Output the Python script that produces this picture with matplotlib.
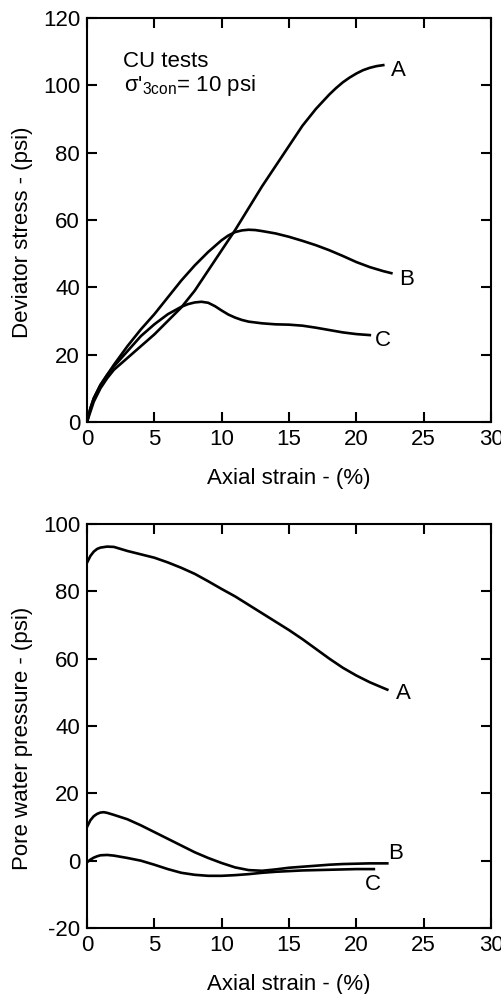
import matplotlib
matplotlib.use('Agg')
import matplotlib.pyplot as plt

plt.rcParams['font.family'] = ['Liberation Sans', 'DejaVu Sans']
plt.rcParams['mathtext.fontset'] = 'custom'
plt.rcParams['mathtext.rm'] = 'Liberation Sans'
plt.rcParams['axes.unicode_minus'] = False

# deviator stress vs axial strain (psi, %)
dev_a_x = [0, 0.25, 0.5, 1, 1.5, 2, 3, 4, 5, 6, 7, 8, 9, 10, 11, 12, 13, 14, 15, 16, 17, 18, 18.5, 19, 19.5, 20, 20.5, 21, 21.5, 22]
dev_a_y = [0, 3, 6, 10, 13, 15.5, 19, 22.5, 26, 30, 34, 39, 45, 51, 57, 63.5, 70, 76, 82, 88, 93, 97.3, 99.2, 100.9, 102.3, 103.5, 104.5, 105.2, 105.7, 106]
dev_b_x = [0, 0.25, 0.5, 1, 1.5, 2, 3, 4, 5, 6, 7, 8, 9, 10, 10.5, 11, 11.5, 12, 12.5, 13, 14, 15, 16, 17, 18, 19, 20, 21, 22, 22.6]
dev_b_y = [0, 4, 7, 11, 14, 17, 22.5, 27.5, 32, 37, 42, 46.5, 50.5, 54, 55.4, 56.4, 56.9, 57.1, 57, 56.7, 56, 55, 53.8, 52.5, 51, 49.3, 47.5, 46, 44.8, 44.2]
dev_c_x = [0, 0.25, 0.5, 1, 1.5, 2, 3, 4, 5, 6, 7, 7.5, 8, 8.5, 9, 9.5, 10, 10.5, 11, 11.5, 12, 13, 14, 15, 16, 17, 18, 19, 20, 21]
dev_c_y = [0, 4, 7, 11, 14, 16.5, 21, 25.5, 29, 32, 34.2, 35, 35.5, 35.7, 35.4, 34.4, 33.1, 31.9, 31, 30.3, 29.8, 29.3, 29, 28.9, 28.6, 28, 27.3, 26.6, 26.1, 25.8]

# pore water pressure vs axial strain
pwp_a_x = [0, 0.25, 0.5, 0.75, 1, 1.5, 2, 2.5, 3, 4, 5, 6, 7, 8, 9, 10, 11, 12, 13, 14, 15, 16, 17, 18, 19, 20, 21, 22, 22.3]
pwp_a_y = [88.5, 90.5, 91.8, 92.6, 93, 93.3, 93.2, 92.6, 92, 91, 90, 88.6, 87, 85.2, 83, 80.7, 78.5, 76, 73.5, 71, 68.5, 65.8, 62.9, 60, 57.3, 55, 53, 51.3, 50.8]
pwp_b_x = [0, 0.25, 0.5, 0.75, 1, 1.25, 1.5, 2, 3, 4, 5, 6, 7, 8, 9, 10, 11, 12, 13, 14, 15, 16, 17, 18, 19, 20, 21, 22, 22.3]
pwp_b_y = [10, 12, 13.2, 13.9, 14.3, 14.4, 14.2, 13.6, 12.3, 10.5, 8.5, 6.5, 4.5, 2.5, 0.8, -0.7, -2, -2.8, -3, -2.6, -2.1, -1.8, -1.5, -1.2, -1, -0.9, -0.8, -0.8, -0.8]
pwp_c_x = [0, 0.25, 0.5, 0.75, 1, 1.5, 2, 3, 4, 5, 6, 7, 8, 9, 10, 11, 12, 13, 14, 15, 16, 17, 18, 19, 20, 21, 21.3]
pwp_c_y = [-0.5, 0.3, 0.9, 1.3, 1.6, 1.7, 1.5, 0.8, 0, -1.2, -2.5, -3.6, -4.2, -4.5, -4.5, -4.3, -4, -3.6, -3.3, -3.1, -2.9, -2.8, -2.7, -2.6, -2.5, -2.5, -2.5]

x_ticks = [0, 5, 10, 15, 20, 25, 30]
dev_ticks = [0, 20, 40, 60, 80, 100, 120]
pwp_ticks = [-20, 0, 20, 40, 60, 80, 100]

fs = 16
lw = 1.9

fig = plt.figure(figsize=(5.02, 9.94), dpi=100)
ax1 = fig.add_axes([0.1733, 0.5755, 0.8048, 0.4064])
ax2 = fig.add_axes([0.1733, 0.0664, 0.8048, 0.4064])


def style_axes(ax, yticks, ylabel):
    ax.set_xlim(0, 30)
    ax.set_ylim(yticks[0], yticks[-1])
    ax.set_xticks(x_ticks)
    ax.set_yticks(yticks)
    ax.tick_params(direction='in', length=7, width=1.5, top=True, right=True,
                   labelsize=fs, pad=5)
    for sp in ax.spines.values():
        sp.set_linewidth(1.5)
    ax.set_xlabel('Axial strain - (%)', fontsize=fs, labelpad=13)
    ax.set_ylabel(ylabel, fontsize=fs)
    ax.yaxis.set_label_coords(-0.134, 0.47)


ax1.plot(dev_a_x, dev_a_y, 'k-', lw=lw)
ax1.plot(dev_b_x, dev_b_y, 'k-', lw=lw)
ax1.plot(dev_c_x, dev_c_y, 'k-', lw=lw)
style_axes(ax1, dev_ticks, 'Deviator stress - (psi)')
ax1.text(23.1, 104.5, 'A', fontsize=fs, ha='center', va='center')
ax1.text(23.7, 42.4, 'B', fontsize=fs, ha='center', va='center')
ax1.text(22.0, 24.1, 'C', fontsize=fs, ha='center', va='center')
ax1.text(2.7, 107, 'CU tests', fontsize=fs, ha='left', va='center')
ax1.text(2.75, 99.8, "σ'$_{\\rm 3con}$= 10 psi", fontsize=fs, ha='left', va='center')

ax2.plot(pwp_a_x, pwp_a_y, 'k-', lw=lw)
ax2.plot(pwp_b_x, pwp_b_y, 'k-', lw=lw)
ax2.plot(pwp_c_x, pwp_c_y, 'k-', lw=lw)
style_axes(ax2, pwp_ticks, 'Pore water pressure - (psi)')
ax2.text(23.5, 49.8, 'A', fontsize=fs, ha='center', va='center')
ax2.text(22.9, 2.0, 'B', fontsize=fs, ha='center', va='center')
ax2.text(21.2, -7.2, 'C', fontsize=fs, ha='center', va='center')

fig.savefig('out.png', dpi=100)
